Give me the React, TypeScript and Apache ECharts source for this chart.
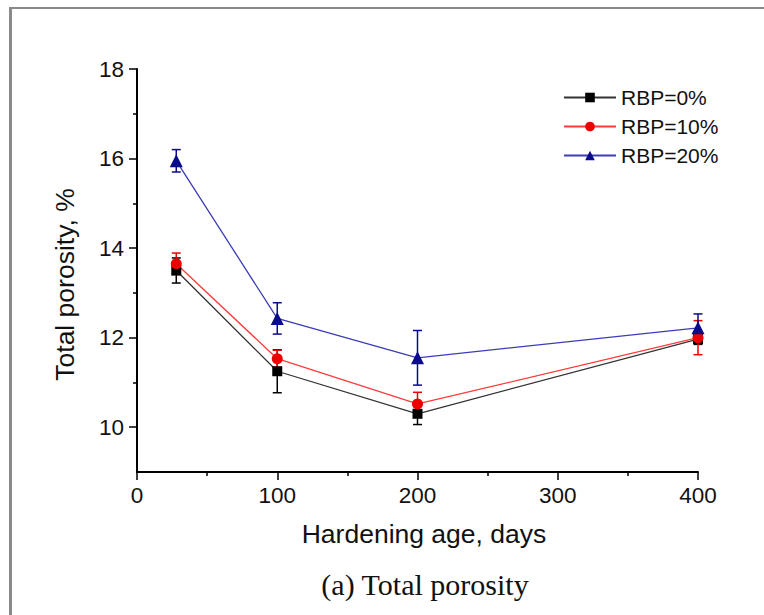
import React, { useEffect, useRef } from "react";
import * as echarts from "echarts";

const xDays = [28, 100, 200, 400];
const seriesNames = ["RBP=0%", "RBP=10%", "RBP=20%"];
const rbp0 = [13.5, 11.25, 10.3, 11.97];
const rbp0Err = [0.28, 0.48, 0.24, 0.12];
const rbp10 = [13.65, 11.53, 10.52, 12.0];
const rbp10Err = [0.24, 0.19, 0.26, 0.38];
const rbp20 = [15.95, 12.43, 11.55, 12.22];
const rbp20Err = [0.25, 0.35, 0.61, 0.31];
const yMajorTicks = [10, 12, 14, 16, 18];
const yMinorTicks = [11, 13, 15, 17];

const lineColors = ["#333333", "#ff3b3b", "#3c3cb8"];
const markColors = ["#000000", "#ee0000", "#0a0a8c"];
const symbols = ["rect", "circle", "triangle"];
const symbolSizes = [10, 11, 13];

export default function App() {
  const ref = useRef<HTMLDivElement>(null);
  useEffect(() => {
    if (!ref.current) return;
    const chart = echarts.init(ref.current, null, { renderer: "svg" });
    const values = [rbp0, rbp10, rbp20];
    const errs = [rbp0Err, rbp10Err, rbp20Err];
    const font = "Liberation Sans";

    const errSeries = values.map((vals, si) => ({
      type: "custom",
      name: "err" + si,
      xAxisIndex: 0,
      yAxisIndex: 0,
      z: 3,
      silent: true,
      data: xDays.map((x, i) => [x, vals[i] - errs[si][i], vals[i] + errs[si][i]]),
      encode: { x: 0, y: [1, 2] },
      renderItem: (params: any, api: any) => {
        const x = api.value(0);
        const lo = api.value(1);
        const hi = api.value(2);
        const p1 = api.coord([x, hi]);
        const p2 = api.coord([x, lo]);
        const hw = 4.5;
        const st = { stroke: markColors[si], lineWidth: 1.5 };
        return {
          type: "group",
          children: [
            { type: "line", shape: { x1: p1[0], y1: p1[1], x2: p2[0], y2: p2[1] }, style: st },
            { type: "line", shape: { x1: p1[0] - hw, y1: p1[1], x2: p1[0] + hw, y2: p1[1] }, style: st },
            { type: "line", shape: { x1: p2[0] - hw, y1: p2[1], x2: p2[0] + hw, y2: p2[1] }, style: st },
          ],
        };
      },
    }));

    const lineSeries = values.map((vals, si) => ({
      type: "line",
      name: seriesNames[si],
      xAxisIndex: 0,
      yAxisIndex: 0,
      z: 4,
      data: xDays.map((x, i) => [x, vals[i]]),
      symbol: symbols[si],
      symbolSize: symbolSizes[si],
      showSymbol: true,
      lineStyle: { color: lineColors[si], width: 1.3 },
      itemStyle: { color: markColors[si] },
    }));

    chart.setOption({
      animation: false,
      backgroundColor: "#ffffff",
      grid: { left: 137, top: 69, right: 66, bottom: 143, containLabel: false },
      legend: {
        data: seriesNames,
        orient: "vertical",
        left: 563,
        top: 87,
        padding: 0,
        itemWidth: 52,
        itemHeight: 12,
        itemGap: 8,
        textStyle: { fontFamily: font, fontSize: 21, color: "#111", lineHeight: 20 },
      },
      xAxis: {
        type: "value",
        min: 0,
        max: 400,
        interval: 100,
        name: "Hardening age, days",
        nameLocation: "middle",
        nameGap: 48,
        nameTextStyle: { fontFamily: font, fontSize: 26.5, color: "#111", padding: [0, 0, 0, 13] },
        axisLine: { show: true, onZero: false, lineStyle: { color: "#000", width: 2 } },
        axisTick: { show: true, inside: false, length: 8, lineStyle: { color: "#000", width: 1.5 } },
        minorTick: { show: true, splitNumber: 2, length: 4, lineStyle: { color: "#000", width: 1.5 } },
        axisLabel: { fontFamily: font, fontSize: 22.5, color: "#111", margin: 12 },
        splitLine: { show: false },
      },
      yAxis: [
        {
          type: "value",
          min: 9,
          max: 18,
          interval: 1,
          name: "Total porosity, %",
          nameLocation: "middle",
          nameGap: 59,
          nameTextStyle: { fontFamily: font, fontSize: 26.5, color: "#111", padding: [0, 28, 0, 0] },
          axisLine: { show: true, onZero: false, lineStyle: { color: "#000", width: 2 } },
          axisTick: { show: true, inside: false, length: 8, customValues: yMajorTicks, lineStyle: { color: "#000", width: 1.5 } },
          axisLabel: { fontFamily: font, fontSize: 22.5, color: "#111", margin: 13, customValues: yMajorTicks },
          splitLine: { show: false },
        },
        {
          type: "value",
          min: 9,
          max: 18,
          interval: 1,
          position: "left",
          offset: 0,
          axisLine: { show: false },
          axisTick: { show: true, inside: false, length: 4, customValues: yMinorTicks, lineStyle: { color: "#000", width: 1.5 } },
          axisLabel: { show: false },
          splitLine: { show: false },
        },
      ],
      graphic: [
        { type: "rect", shape: { x: 9, y: 7, width: 3, height: 608 }, style: { fill: "#8a8a8a" }, z: 10 },
        { type: "rect", shape: { x: 9, y: 7, width: 755, height: 2 }, style: { fill: "#8a8a8a" }, z: 10 },
        {
          type: "text",
          x: 425,
          y: 584,
          style: {
            text: "(a) Total porosity",
            font: '30px "Liberation Serif"',
            fill: "#111",
            textAlign: "center",
            textVerticalAlign: "middle",
          },
        },
      ],
      series: [...errSeries, ...lineSeries],
    });
    return () => chart.dispose();
  }, []);
  return (
    <div
      ref={ref}
      style={{ position: "fixed", left: 0, top: 0, width: 764, height: 615, background: "#fff" }}
    />
  );
}
